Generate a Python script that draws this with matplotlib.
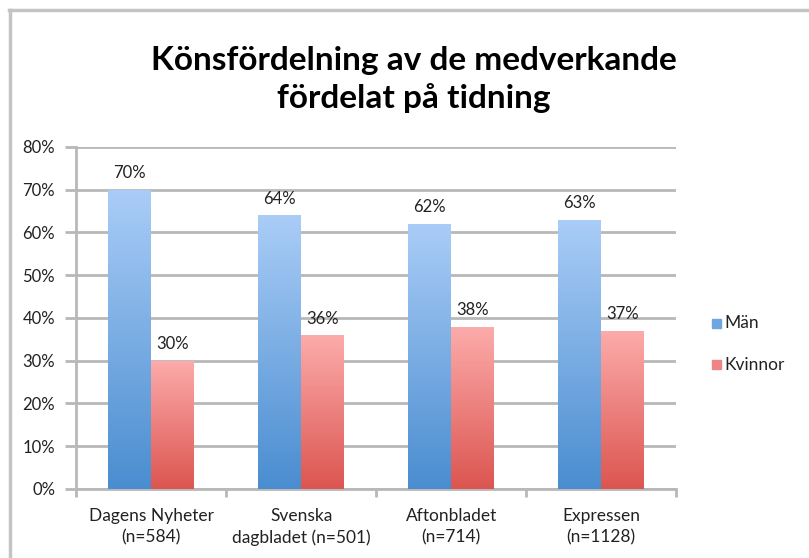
import matplotlib.pyplot as plt
import numpy as np
from matplotlib.colors import LinearSegmentedColormap
from matplotlib.patches import Rectangle

categories = ["Dagens Nyheter\n(n=584)", "Svenska\ndagbladet (n=501)",
              "Aftonbladet\n(n=714)", "Expressen\n(n=1128)"]
man = [70, 64, 62, 63]
kvinnor = [30, 36, 38, 37]
yticks = [0, 10, 20, 30, 40, 50, 60, 70, 80]

plt.rcParams['font.family'] = ['Lato', 'DejaVu Sans']

fig = plt.figure(figsize=(8.09, 5.58), dpi=100)
ax = fig.add_axes([0.094, 0.1237, 0.742, 0.6129])

# frame around chart (left and top only visible in the crop)
fig.add_artist(plt.Line2D([0.012, 0.012], [0, 0.982], transform=fig.transFigure,
                          color='#c4c4c4', lw=2.5))
fig.add_artist(plt.Line2D([0.011, 1.0], [0.982, 0.982], transform=fig.transFigure,
                          color='#c4c4c4', lw=2.5))

blue_cmap = LinearSegmentedColormap.from_list('b', ['#4a8dd0', '#aacdf7'])
red_cmap = LinearSegmentedColormap.from_list('r', ['#dc5550', '#fcacab'])

x = np.arange(len(categories))
w = 0.286
grad = np.linspace(0, 1, 256).reshape(-1, 1)

def gbar(xs, vals, cmap):
    bars = ax.bar(xs, vals, width=w, color='none', edgecolor='none', zorder=3)
    for b in bars:
        x0, y0 = b.get_x(), b.get_y()
        im = ax.imshow(grad, extent=[x0, x0 + b.get_width(), y0, y0 + b.get_height()],
                       origin='lower', cmap=cmap, aspect='auto', zorder=3)
        im.set_clip_path(b)
    return bars

gbar(x - w / 2, man, blue_cmap)
gbar(x + w / 2, kvinnor, red_cmap)

for xi, v in zip(x - w / 2, man):
    ax.text(xi, v + 2.0, f"{v}%", ha='center', va='bottom', fontsize=12, color='#222222')
for xi, v in zip(x + w / 2, kvinnor):
    ax.text(xi, v + 2.0, f"{v}%", ha='center', va='bottom', fontsize=12, color='#222222')

ax.set_xlim(-0.5, 3.5)
ax.set_ylim(0, 80)
ax.set_yticks(yticks)
ax.set_yticklabels([f"{t}%" for t in yticks], fontsize=12, color='#222222')
ax.yaxis.grid(True, color='#b8b8b8', lw=2)
ax.set_axisbelow(True)

ax.set_xticks(x)
ax.set_xticklabels(categories, fontsize=12.5, color='#222222', linespacing=1.35)
ax.set_xticks(np.arange(-0.5, 4, 1), minor=True)
ax.tick_params(axis='x', which='major', length=0, pad=14)
ax.tick_params(axis='x', which='minor', length=6, color='#b8b8b8', width=2)
ax.tick_params(axis='y', length=8, color='#b8b8b8', width=2, pad=7)

for s in ['top', 'right']:
    ax.spines[s].set_visible(False)
for s in ['left', 'bottom']:
    ax.spines[s].set_color('#b8b8b8')
    ax.spines[s].set_linewidth(2)

fig.text(0.512, 0.858, "Könsfördelning av de medverkande\nfördelat på tidning",
         ha='center', va='center', fontsize=24, fontweight='bold', linespacing=1.32)

# legend
fig.patches.append(Rectangle((0.880, 0.413), 0.011, 0.016, transform=fig.transFigure,
                             color='#6ea6e2', figure=fig))
fig.text(0.895, 0.421, "Män", va='center', fontsize=12.5, color='#222222')
fig.patches.append(Rectangle((0.880, 0.338), 0.011, 0.016, transform=fig.transFigure,
                             color='#f08383', figure=fig))
fig.text(0.895, 0.346, "Kvinnor", va='center', fontsize=12.5, color='#222222')

fig.savefig('out.png', dpi=100)
